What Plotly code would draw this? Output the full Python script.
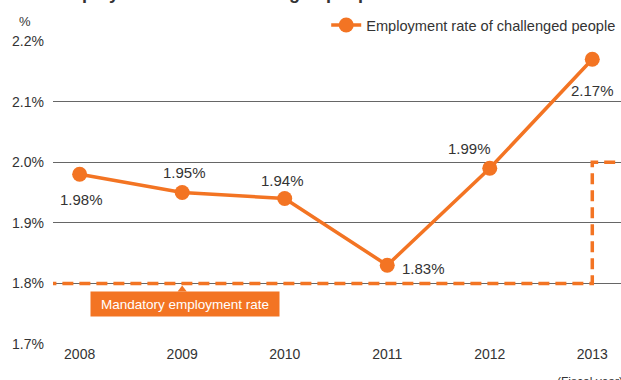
import plotly.graph_objects as go

years = [2008, 2009, 2010, 2011, 2012, 2013]
rates = [1.98, 1.95, 1.94, 1.83, 1.99, 2.17]
labels = ["1.98%", "1.95%", "1.94%", "1.83%", "1.99%", "2.17%"]
mandatory = [1.8, 1.8, 1.8, 1.8, 1.8, 2.0]
yticks = [1.7, 1.8, 1.9, 2.0, 2.1, 2.2]

ORANGE = "#F37423"
TXT = "#333333"
FONT = "Liberation Sans"

# label offsets (px) relative to each point
offs = [(2, -25), (2, 20), (-2, 18), (36, -3), (-20, 20), (0, -31)]

fig = go.Figure()

# mandatory employment rate (step line, extended to plot edges)
mx = [years[0] - 0.5] + years + [years[-1] + 0.5]
my = [mandatory[0]] + mandatory + [mandatory[-1]]
fig.add_trace(go.Scatter(
    x=mx, y=my, mode="lines", line=dict(color=ORANGE, width=3.5, dash="11px,6px", shape="hv"),
    showlegend=False, hoverinfo="skip"))

fig.add_trace(go.Scatter(
    x=years, y=rates, mode="lines+markers", name="Employment rate of challenged people",
    line=dict(color=ORANGE, width=3.5), marker=dict(size=15, color=ORANGE),
    cliponaxis=False))

# callout pointer
fig.add_trace(go.Scatter(
    x=[years[1]], y=[1.79], mode="markers",
    marker=dict(symbol="triangle-up", size=8, color=ORANGE),
    showlegend=False, hoverinfo="skip"))

annotations = []
for x, y, t, (dx, dy) in zip(years, rates, labels, offs):
    annotations.append(dict(x=x, y=y, text=t, showarrow=False, xshift=dx, yshift=dy,
                            font=dict(size=15, color=TXT, family=FONT)))

annotations.append(dict(x=years[1] + 0.03, y=1.766, text="Mandatory employment rate", showarrow=False,
                        bgcolor=ORANGE, width=186, height=22, font=dict(size=13.5, color="white", family=FONT)))
annotations.append(dict(xref="paper", yref="paper", x=-0.05, y=1.065, xanchor="center", yanchor="middle",
                        text="%", showarrow=False, font=dict(size=13, color=TXT, family=FONT)))
annotations.append(dict(xref="paper", yref="paper", x=0.945, y=-0.095, xanchor="center", yanchor="top",
                        text="(Fiscal year)", showarrow=False, font=dict(size=12, color=TXT, family=FONT)))
annotations.append(dict(xref="paper", yref="paper", x=-0.03, y=1.118, xanchor="left", yanchor="bottom",
                        text="<b>■ Employment rate of challenged people</b>", showarrow=False,
                        font=dict(size=18, color=TXT, family=FONT)))

fig.update_layout(
    width=621, height=380,
    margin=dict(l=53, r=0, t=41, b=36, autoexpand=False),
    paper_bgcolor="white", plot_bgcolor="white",
    font=dict(family=FONT, color=TXT, size=14),
    showlegend=True,
    legend=dict(x=0.481, y=1.0, xanchor="left", yanchor="bottom", orientation="h",
                font=dict(size=14.6, color=TXT, family=FONT), bgcolor="rgba(0,0,0,0)"),
    annotations=annotations,
)
fig.update_xaxes(range=[2007.74, 2013.28], tickvals=years, ticktext=[str(y) for y in years],
                 showgrid=False, zeroline=False, showline=False, ticks="",
                 tickfont=dict(size=14, color=TXT, family=FONT))
fig.update_yaxes(range=[1.7, 2.2], tickvals=yticks, ticktext=[f"{v:.1f}%" for v in yticks],
                 showgrid=True, gridcolor="#666666", gridwidth=1, zeroline=False, showline=False,
                 ticks="", ticklabelstandoff=8,
                 tickfont=dict(size=14, color=TXT, family=FONT))

fig.write_html("out.html")
